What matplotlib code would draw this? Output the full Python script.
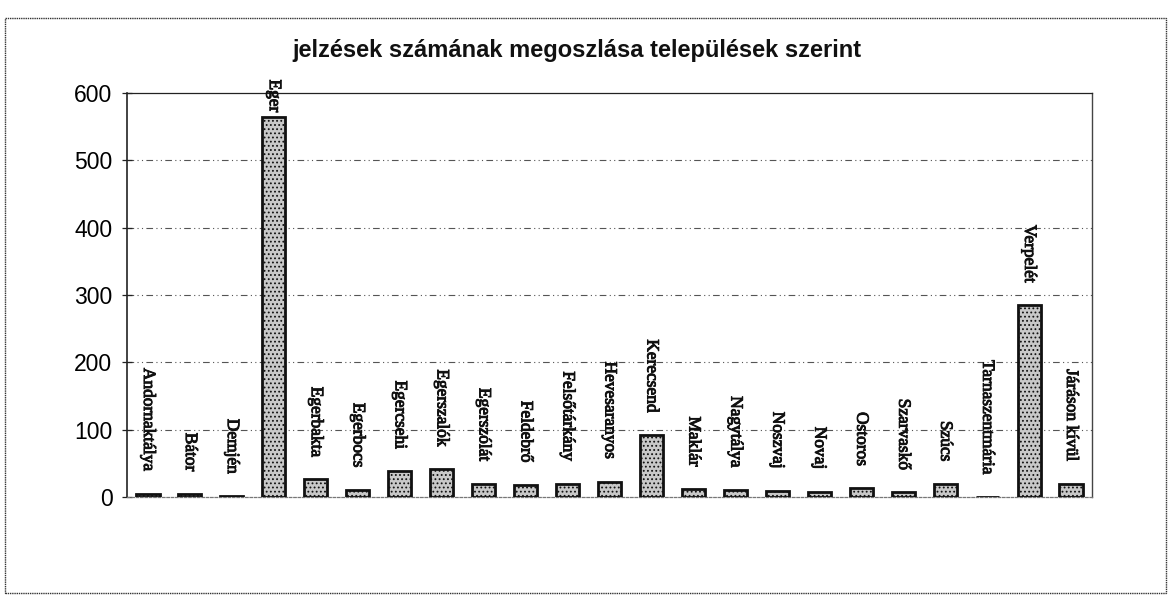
import matplotlib
matplotlib.use("Agg")
import matplotlib.pyplot as plt
from matplotlib.patches import Rectangle
import matplotlib.patheffects as pe

categories = ["Andornaktálya", "Bátor", "Demjén", "Eger", "Egerbakta", "Egerbocs",
              "Egercsehi", "Egerszalók", "Egerszólát", "Feldebrő", "Felsőtárkány",
              "Hevesaranyos", "Kerecsend", "Maklár", "Nagytálya", "Noszvaj", "Novaj",
              "Ostoros", "Szarvaskő", "Szúcs", "Tarnaszentmária", "Verpelét",
              "Járáson kívül"]
values = [5, 5, 1, 565, 26, 11, 38, 42, 20, 18, 20, 23, 92, 12, 10, 9, 8, 13, 7, 20, 0, 285, 20]
yticks = [0, 100, 200, 300, 400, 500, 600]
title = "jelzések számának megoszlása települések szerint"

plt.rcParams["hatch.color"] = "#9a9a9a"
plt.rcParams["hatch.linewidth"] = 0.8

W, H = 1172, 595
fig = plt.figure(figsize=(W / 100, H / 100), dpi=100)
fig.patch.set_facecolor("white")

# outer frame
fig.patches.append(Rectangle((5 / W, 2 / H), (1166 - 5) / W, (577 - 2) / H,
                             transform=fig.transFigure, fill=False,
                             edgecolor="#333333", linewidth=1.0, linestyle=(0, (1, 0.6))))

left, right, top, bottom = 127, 1092, 93, 497
ax = fig.add_axes([left / W, (H - bottom) / H, (right - left) / W, (bottom - top) / H])

x = list(range(len(categories)))
ax.bar(x, values, width=0.55, color="#c8c8c8", edgecolor="#111111", linewidth=2.0,
       hatch="....", zorder=3)

ax.set_xlim(-0.5, len(categories) - 0.5)
ax.set_ylim(0, 600)
ax.set_yticks(yticks)
ax.set_yticklabels([str(t) for t in yticks], fontsize=16.5, family="Liberation Sans")
ax.set_xticks([])
ax.tick_params(axis="y", direction="inout", length=7, width=0.9, pad=7, color="#222222")

for g in yticks[1:-1]:
    ax.axhline(g, color="#555555", linewidth=0.8, linestyle=(0, (6, 3, 1, 3, 1, 3)), zorder=1)

ax.spines["left"].set_color("#222222")
ax.spines["left"].set_linewidth(1.2)
ax.spines["top"].set_color("#222222")
ax.spines["top"].set_linewidth(0.9)
ax.spines["right"].set_color("#444444")
ax.spines["right"].set_linestyle((0, (1, 1)))
ax.spines["right"].set_linewidth(1.0)
ax.spines["bottom"].set_color("#777777")
ax.spines["bottom"].set_linestyle((0, (2, 1.5)))
ax.spines["bottom"].set_linewidth(0.9)

for xi, v, name in zip(x, values, categories):
    off = 3 if v > 500 else 16
    ax.annotate(name, (xi, v), xytext=(0, off), textcoords="offset points",
                rotation=270, ha="center", va="bottom", fontsize=12.5,
                family="Liberation Serif", color="#111111", annotation_clip=False,
                zorder=4,
                path_effects=[pe.withStroke(linewidth=0.7, foreground="#111111")])

fig.text(577 / W, 1 - 50 / H, title, ha="center", va="center", fontsize=17,
         fontweight="bold", family="Liberation Sans", color="#111111")

fig.savefig("out.png", dpi=100, facecolor="white")
